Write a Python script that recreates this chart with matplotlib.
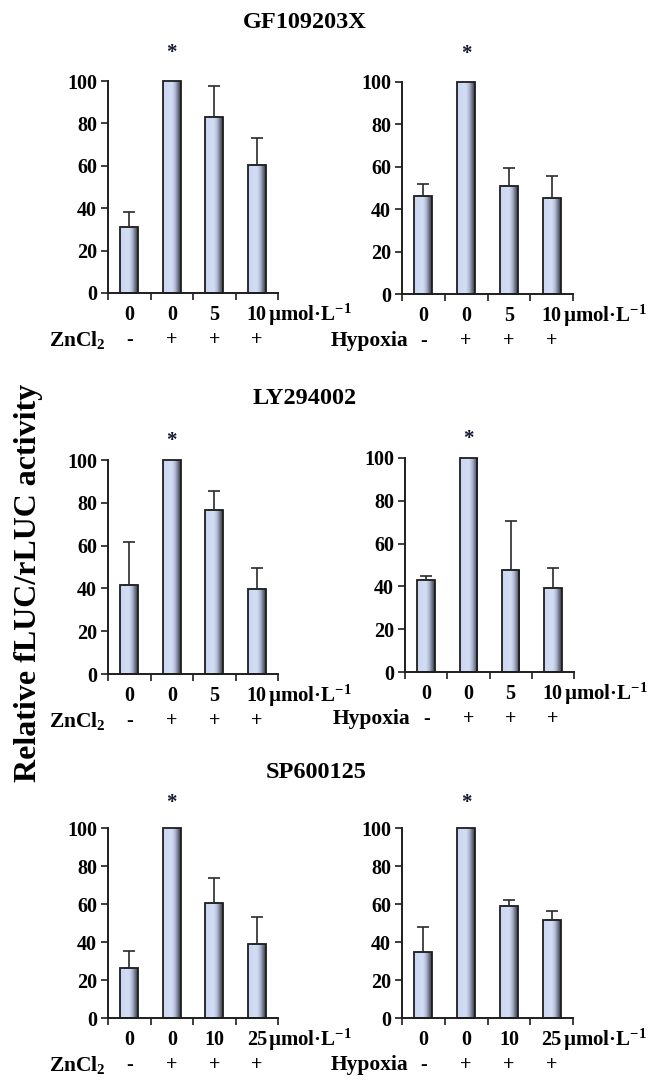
import numpy as np
import matplotlib
matplotlib.use("Agg")
import matplotlib.pyplot as plt
from matplotlib.colors import LinearSegmentedColormap
import matplotlib.transforms as mtransforms

plt.rcParams['font.family'] = ['Liberation Serif', 'DejaVu Serif']
plt.rcParams['font.weight'] = 'bold'
plt.rcParams['mathtext.fontset'] = 'custom'
plt.rcParams['mathtext.rm'] = 'Liberation Serif:bold'
plt.rcParams['mathtext.it'] = 'Liberation Serif:bold'
plt.rcParams['mathtext.bf'] = 'Liberation Serif:bold'
plt.rcParams['mathtext.default'] = 'rm'

# ---------------- data ----------------
titles = ['GF109203X', 'LY294002', 'SP600125']
treatments = ['ZnCl$_2$', 'Hypoxia']
treat_signs = ['-', '+', '+', '+']
dose_labels = [['0', '0', '5', '10'],
               ['0', '0', '5', '10'],
               ['0', '0', '10', '25']]
unit_label = 'µmol·L$^{-1}$'
y_label = 'Relative fLUC/rLUC activity'
sig_index = 1

gf_zn = [31.0, 100.0, 83.0, 60.5]
gf_zn_err = [7.0, 0.0, 14.5, 12.5]
gf_hy = [46.0, 100.0, 51.0, 45.5]
gf_hy_err = [5.7, 0.0, 8.6, 10.0]
ly_zn = [41.7, 100.0, 76.7, 39.7]
ly_zn_err = [20.0, 0.0, 9.0, 10.0]
ly_hy = [43.0, 100.0, 47.8, 39.4]
ly_hy_err = [2.0, 0.0, 22.6, 9.4]
sp_zn = [26.5, 100.0, 60.5, 39.0]
sp_zn_err = [8.8, 0.0, 13.3, 14.0]
sp_hy = [35.0, 100.0, 58.8, 51.8]
sp_hy_err = [12.8, 0.0, 3.5, 4.5]

panels = [
    [(gf_zn, gf_zn_err), (gf_hy, gf_hy_err)],
    [(ly_zn, ly_zn_err), (ly_hy, ly_hy_err)],
    [(sp_zn, sp_zn_err), (sp_hy, sp_hy_err)],
]

# ---------------- layout (pixels, top-left origin) ----------------
W, H = 655, 1086
boxes = [
    [(108, 278, 81, 293), (402, 573, 82, 294)],
    [(108, 278, 460, 674), (405, 574, 458, 672)],
    [(108, 278, 828, 1018), (402, 573, 828, 1018)],
]
title_pos = [(305, 22), (305, 398), (316, 772)]
star_y = [113, 109, 113]

fig = plt.figure(figsize=(W / 100, H / 100), dpi=100)
fig.patch.set_facecolor('white')

cmap = LinearSegmentedColormap.from_list(
    'barshade',
    [(0.0, '#bcc7e2'), (0.05, '#ccd7f2'), (0.5, '#d3ddf5'),
     (0.68, '#b0bad2'), (0.86, '#6c7286'), (1.0, '#303238')])
grad = np.linspace(0, 1, 64).reshape(1, -1)

edge = '#1e1e1e'
fs_tick = 14.5
fs_row2 = 15.5
fs_unit = 15

for r in range(3):
    for c in range(2):
        x0, x1, yt, yb = boxes[r][c]
        ax = fig.add_axes([x0 / W, 1 - yb / H, (x1 - x0) / W, (yb - yt) / H])
        vals, errs = panels[r][c]
        xs = np.arange(len(vals))
        bars = ax.bar(xs, vals, width=0.42, color='#c8d4ef', edgecolor='none',
                      zorder=2, clip_on=False)
        for b in bars:
            bx, bw, bh = b.get_x(), b.get_width(), b.get_height()
            im = ax.imshow(grad, extent=[bx, bx + bw, 0, bh], aspect='auto',
                           cmap=cmap, zorder=2.5, interpolation='bilinear')
            im.set_clip_path(b)
        ax.bar(xs, vals, width=0.42, fill=False, edgecolor=edge, linewidth=1.3,
               zorder=3, clip_on=False)
        err_arr = np.array(errs)
        m = err_arr > 0
        ax.errorbar(xs[m], np.array(vals)[m],
                    yerr=[np.zeros(m.sum()), err_arr[m]],
                    fmt='none', ecolor='#2a2a2a', elinewidth=1.2, capsize=4,
                    capthick=1.2, zorder=4, clip_on=False)
        ax.text(xs[sig_index], star_y[r], '*', ha='center', va='center',
                fontsize=15, color='#101830', zorder=5, clip_on=False)

        ax.set_xlim(-0.5, len(vals) - 0.5)
        ax.set_ylim(0, 100)
        ax.set_yticks([0, 20, 40, 60, 80, 100])
        ax.set_yticklabels(['0', '20', '40', '60', '80', '100'])
        ax.set_xticks(xs)
        ax.set_xticklabels(dose_labels[r])
        ax.set_xticks(np.arange(-0.5, len(vals)), minor=True)
        ax.tick_params(axis='x', which='major', length=0, pad=8.5,
                       labelsize=fs_tick)
        ax.tick_params(axis='x', which='minor', length=5, width=1.2,
                       direction='out', color=edge)
        ax.tick_params(axis='y', length=5, width=1.2, direction='out',
                       color=edge, pad=3, labelsize=fs_tick)
        for lab in ax.get_xticklabels() + ax.get_yticklabels():
            lab.set_fontweight('bold')
        for s in ['top', 'right']:
            ax.spines[s].set_visible(False)
        for s in ['left', 'bottom']:
            ax.spines[s].set_color(edge)
            ax.spines[s].set_linewidth(1.4)
        ax.set_facecolor('none')

        blend = mtransforms.blended_transform_factory(ax.transData, ax.transAxes)
        t_unit = mtransforms.offset_copy(blend, fig=fig, y=-22 * 0.72, units='points')
        ax.text(len(vals) - 1 + 0.27, 0, unit_label, transform=t_unit,
                ha='left', va='center', fontsize=fs_unit, fontweight='bold')
        t_row2 = mtransforms.offset_copy(blend, fig=fig, y=-47 * 0.72, units='points')
        name_x = -0.55 if c == 0 else -0.36
        ax.text(name_x, 0, treatments[c], transform=t_row2, ha='right',
                va='center', fontsize=fs_row2, fontweight='bold')
        for xi, sgn in zip(xs, treat_signs):
            ax.text(xi, 0, sgn, transform=t_row2, ha='center', va='center',
                    fontsize=fs_tick, fontweight='bold')

for (tx, ty), t in zip(title_pos, titles):
    fig.text(tx / W, 1 - ty / H, t, ha='center', va='center', fontsize=17.5,
             fontweight='bold')

fig.text(29 / W, 1 - 583 / H, y_label, rotation=90, ha='center', va='center',
         fontsize=23, fontweight='bold')

fig.savefig('out.png', dpi=100, facecolor='white')
